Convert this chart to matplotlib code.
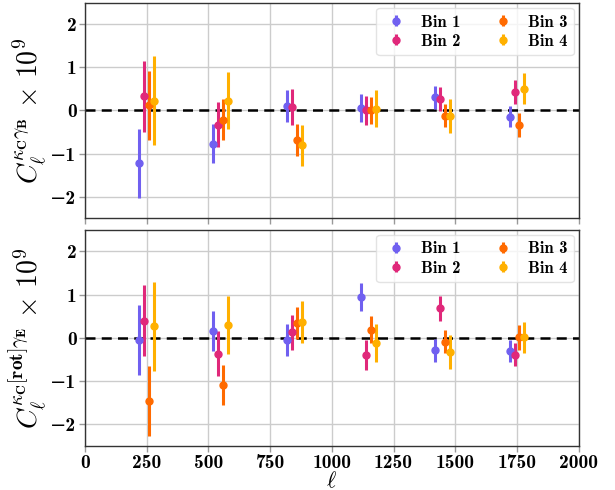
import matplotlib
matplotlib.use("Agg")
import matplotlib.pyplot as plt
from matplotlib.legend_handler import HandlerErrorbar
from matplotlib.container import ErrorbarContainer
import numpy as np

plt.rcParams['mathtext.fontset'] = 'cm'
plt.rcParams['font.family'] = ['cmb10', 'DejaVu Serif']

# ell bin centres (Bin 1) and per-bin shift in ell
ell = [220, 520, 820, 1120, 1420, 1720]
bin_shift = [0, 20, 40, 60]
bins = ['Bin 1', 'Bin 2', 'Bin 3', 'Bin 4']
colors = ['#7060f0', '#e0287a', '#ff6a00', '#ffb000']

# top panel: C_l^{kappa_C gamma_B} x 1e9
top_b1 = [-1.23, -0.77, 0.11, 0.06, 0.31, -0.14]
top_b2 = [0.33, -0.33, 0.08, 0.00, 0.27, 0.43]
top_b3 = [0.12, -0.21, -0.69, 0.00, -0.12, -0.33]
top_b4 = [0.23, 0.23, -0.81, 0.04, -0.13, 0.51]

# bottom panel: C_l^{kappa_C[rot] gamma_E} x 1e9
bot_b1 = [-0.05, 0.15, -0.05, 0.95, -0.29, -0.31]
bot_b2 = [0.40, -0.37, 0.13, -0.40, 0.68, -0.39]
bot_b3 = [-1.46, -1.09, 0.35, 0.19, -0.09, 0.01]
bot_b4 = [0.27, 0.29, 0.37, -0.12, -0.33, 0.01]

# 1-sigma errors (same for both panels)
err_b1 = [0.81, 0.46, 0.37, 0.32, 0.27, 0.25]
err_b2 = [0.83, 0.52, 0.41, 0.34, 0.28, 0.27]
err_b3 = [0.80, 0.47, 0.37, 0.31, 0.27, 0.28]
err_b4 = [1.03, 0.67, 0.48, 0.43, 0.39, 0.35]

top_vals = [top_b1, top_b2, top_b3, top_b4]
bot_vals = [bot_b1, bot_b2, bot_b3, bot_b4]
errs = [err_b1, err_b2, err_b3, err_b4]

xticks = [0, 250, 500, 750, 1000, 1250, 1500, 1750, 2000]
yticks = [-2, -1, 0, 1, 2]

fig = plt.figure(figsize=(6.15, 4.9), dpi=100)
ax1 = fig.add_axes([0.138, 0.555, 0.803, 0.439])
ax2 = fig.add_axes([0.138, 0.090, 0.803, 0.441])

def ylab(v):
    return ('\u2212' + str(-v)) if v < 0 else str(v)

for ax, vals in [(ax1, top_vals), (ax2, bot_vals)]:
    ax.set_axisbelow(True)
    ax.grid(True, color='#cccccc', lw=1.0)
    ax.axhline(0, color='black', ls='--', lw=1.8, dashes=(4, 2.5), zorder=1)
    for i in range(4):
        x = np.array(ell) + bin_shift[i]
        ax.errorbar(x, vals[i], yerr=errs[i], fmt='o', color=colors[i],
                    ms=5, elinewidth=2.2, capsize=0, label=bins[i], zorder=3)
    ax.set_xlim(0, 2000)
    ax.set_ylim(-2.5, 2.5)
    ax.set_xticks(xticks)
    ax.set_yticks(yticks)
    ax.set_yticklabels([ylab(v) for v in yticks], fontsize=14)
    ax.tick_params(axis='both', color='#999999', length=4, width=1, pad=2)
    for sp in ax.spines.values():
        sp.set_color('#333333')
        sp.set_linewidth(1.0)
    ax.legend(loc='upper right', ncol=2, fontsize=12, handlelength=1.6,
              handletextpad=0.65, columnspacing=1.8, borderpad=0.4,
              labelspacing=0.25, borderaxespad=0.3,
              framealpha=0.8, edgecolor='#dddddd', fancybox=True,
              handler_map={ErrorbarContainer: HandlerErrorbar(yerr_size=0.33)})

ax1.set_xticklabels([])
ax2.set_xticklabels([str(v) for v in xticks], fontsize=14)
ax2.set_xlabel(r'$\boldsymbol{\ell}$', fontsize=16, labelpad=-1)

ax1.set_ylabel(r'$\boldsymbol{C_{\ell}^{\kappa_{\mathbf{C}}\gamma_{\mathbf{B}}}}\ \boldsymbol{\times}\ \mathbf{10^9}$',
               fontsize=20, labelpad=2)
ax2.set_ylabel(r'$\boldsymbol{C_{\ell}^{\kappa_{\mathbf{C}}[\mathbf{rot}]\gamma_{\mathbf{E}}}}\ \boldsymbol{\times}\ \mathbf{10^9}$',
               fontsize=20, labelpad=2)

fig.savefig('out.png', dpi=100)
